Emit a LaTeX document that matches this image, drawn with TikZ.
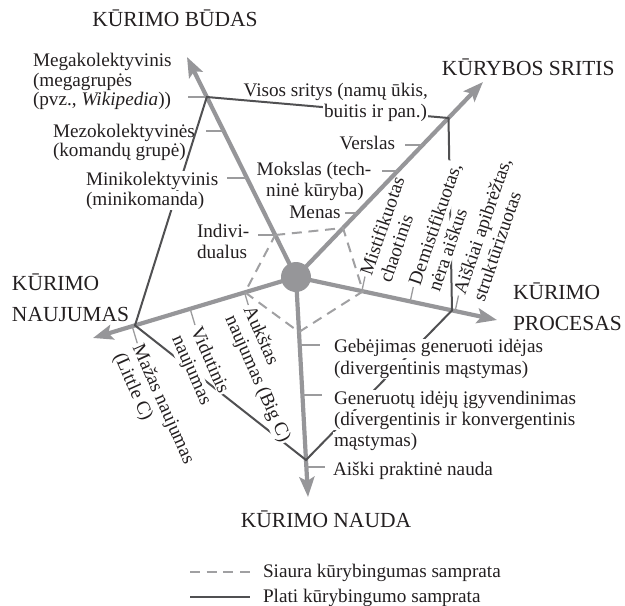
\documentclass[tikz,border=0pt]{standalone}
\usepackage{fontspec}
\setmainfont{Liberation Serif}
\usetikzlibrary{calc,arrows.meta}
\definecolor{axisgray}{RGB}{150,150,153}
\definecolor{dashgray}{RGB}{160,160,162}
\definecolor{tickgray}{RGB}{155,155,157}
\definecolor{darkline}{RGB}{80,80,82}
\definecolor{txt}{RGB}{35,31,32}
\begin{document}
\begin{tikzpicture}[x=1pt,y=1pt,
  axisline/.style={draw=axisgray, line width=4.2pt, -{Stealth[length=20pt,width=15pt,inset=4pt]}},
  tickline/.style={draw=tickgray, line width=1.3pt},
  narrow/.style={draw=dashgray, line width=2pt, dash pattern=on 10pt off 6.7pt},
  broad/.style={draw=darkline, line width=2pt, line join=miter},
  lbl/.style={font=\fontsize{19.2}{21}\selectfont, text=txt, inner sep=0pt, outer sep=0pt},
  ttl/.style={font=\fontsize{21.5}{24}\selectfont, text=txt, inner sep=0pt, outer sep=0pt},
  mask/.style={fill=white, inner xsep=1pt, inner ysep=0.8pt},
]
\useasboundingbox (0,0) rectangle (625,-606);

% centre and arrow tips
\coordinate (C) at (296,-277);
\coordinate (TB) at (187,-57);
\coordinate (TS) at (483,-82);
\coordinate (TP) at (497,-320);
\coordinate (TN) at (308,-497);
\coordinate (TJ) at (93,-338);

% broad (solid) pentagon
\coordinate (SB) at (206.8,-97);
\coordinate (SS) at (448.5,-118);
\coordinate (SP) at (452,-310.4);
\coordinate (SN) at (306,-460);
\coordinate (SJ) at (135,-325.4);

% narrow (dashed) pentagon
\coordinate (DB) at (275.2,-235);
\coordinate (DS) at (343,-228);
\coordinate (DP) at (363,-291.3);
\coordinate (DN) at (299,-332);
\coordinate (DJ) at (245,-292.3);

% axes
\draw[axisline] (C) -- (TB);
\draw[axisline] (C) -- (TS);
\draw[axisline] (C) -- (TP);
\draw[axisline] (C) -- (TN);
\draw[axisline] (C) -- (TJ);

% ticks
\draw[tickline] (188,-97) -- (SB);
\draw[tickline] (206,-131) -- (223.7,-131);
\draw[tickline] (227,-178) -- (247,-178);
\draw[tickline] (258,-235) -- (DB);
\draw[tickline] (405,-145) -- (422.6,-145);
\draw[tickline] (382,-171) -- (397.7,-171);
\draw[tickline] (345,-213) -- (357.4,-213);
\draw[tickline] (299.7,-345) -- (320,-345);
\draw[tickline] (302.4,-395) -- (322,-395);
\draw[tickline] (306.4,-467) -- (325,-467);
\coordinate (Tm) at (365,-276.5);
\coordinate (Td) at (413.3,-287);
\coordinate (Ta) at (458.5,-295.5);
\draw[tickline] ($(C)!(Tm)!(TP)$) -- (Tm);
\draw[tickline] ($(C)!(Td)!(TP)$) -- (Td);
\draw[tickline] ($(C)!(Ta)!(TP)$) -- (Ta);
\coordinate (Tk) at (248.3,-305);
\coordinate (Tv) at (195,-325);
\coordinate (Tz) at (137.3,-343.3);
\draw[tickline] ($(C)!(Tk)!(TJ)$) -- (Tk);
\draw[tickline] ($(C)!(Tv)!(TJ)$) -- (Tv);
\draw[tickline] ($(C)!(Tz)!(TJ)$) -- (Tz);

% pentagons
\draw[narrow] (DB) -- (DS) -- (DP) -- (DN) -- (DJ) -- cycle;
\draw[broad] (SB) -- (SS) -- (SP) -- (SN) -- (SJ) -- cycle;

% centre dot
\fill[axisgray] (C) circle[radius=15];

% titles
\node[ttl, anchor=base] (tb) at (175,-26.7) {KŪRIMO BŪDAS};
\node[ttl, anchor=base] (ts) at (528.3,-75) {KŪRYBOS SRITIS};
\node[ttl, anchor=base west] (tj1) at (12,-290) {KŪRIMO};
\node[ttl, anchor=base west] (tj2) at (12,-321) {NAUJUMAS};
\node[ttl, anchor=base west] (tp1) at (513,-299.3) {KŪRIMO};
\node[ttl, anchor=base west] (tp2) at (513,-330) {PROCESAS};
\node[ttl, anchor=base] (tn) at (326,-527) {KŪRIMO NAUDA};

% KURIMO BUDAS labels
\node[lbl, anchor=base west] (mg1) at (33,-66.5) {Megakolektyvinis};
\node[lbl, anchor=base west] (mg2) at (33,-86) {(megagrupės};
\node[lbl, anchor=base west] (mg3) at (33,-105.5) {(pvz., \textit{Wikipedia}))};
\node[lbl, anchor=base west] (mz1) at (53,-137) {Mezokolektyvinės};
\node[lbl, anchor=base west] (mz2) at (53,-156) {(komandų grupė)};
\node[lbl, mask, anchor=base west] (mn1) at (85,-185) {Minikolektyvinis};
\node[lbl, mask, anchor=base west] (mn2) at (85,-205) {(minikomanda)};
\node[lbl, anchor=base west] (in1) at (197,-237.3) {Indivi-};
\node[lbl, anchor=base west] (in2) at (197,-258) {dualus};

% KURYBOS SRITIS labels
\node[lbl, anchor=base east] (vs1) at (428,-96) {Visos sritys (namų ūkis,};
\node[lbl, mask, anchor=base east] (vs2) at (428,-117) {buitis ir pan.)};
\node[lbl, anchor=base east] (ve) at (395,-149.3) {Verslas};
\node[lbl, anchor=base] (mo1) at (314,-175.5) {Mokslas (tech-};
\node[lbl, anchor=base] (mo2) at (315,-196) {ninė kūryba)};
\node[lbl, anchor=base] (me) at (315,-218.3) {Menas};

% KURIMO PROCESAS labels
\node[lbl, anchor=base west, rotate=71] (m1) at (371.5,-276.6) {Mistifikuotas};
\node[lbl, anchor=base west, rotate=71] (m2) at (390.9,-283.3) {chaotinis};
\node[lbl, mask, anchor=base west, rotate=71] (d1) at (419.8,-287.1) {Demistifikuotas,};
\node[lbl, mask, anchor=base west, rotate=71] (d2) at (439.2,-293.8) {nėra aiškus};
\node[lbl, anchor=base west, rotate=71] (a1) at (465,-295.6) {Aiškiai apibrėžtas,};
\node[lbl, anchor=base west, rotate=71] (a2) at (484.4,-302.3) {struktūrizuotas};

% KURIMO NAUDA labels
\node[lbl, mask, anchor=base west] (g1) at (333,-352.7) {Gebėjimas generuoti idėjas};
\node[lbl, mask, anchor=base west] (g2) at (333,-374) {(divergentinis mąstymas)};
\node[lbl, mask, anchor=base west] (q1) at (333,-404) {Generuotų idėjų įgyvendinimas};
\node[lbl, mask, anchor=base west] (q2) at (333,-425) {(divergentinis ir konvergentinis};
\node[lbl, mask, anchor=base west] (q3) at (333,-446.5) {mąstymas)};
\node[lbl, anchor=base west] (pn) at (333,-475.7) {Aiški praktinė nauda};

% KURIMO NAUJUMAS labels
\node[lbl, anchor=base west, rotate=-66] (k1) at (243.4,-309.4) {Aukštas};
\node[lbl, mask, anchor=base west, rotate=-66] (k2) at (224.7,-317.7) {naujumas (Big C)};
\node[lbl, mask, anchor=base west, rotate=-66] (v1) at (190.1,-329.4) {Vidutinis};
\node[lbl, mask, anchor=base west, rotate=-66] (v2) at (171.4,-337.7) {naujumas};
\node[lbl, anchor=base west, rotate=-66] (z1) at (132.4,-347.7) {Mažas naujumas};
\node[lbl, anchor=base west, rotate=-66] (z2) at (113.7,-356) {(Little C)};

% legend
\coordinate (la1) at (190,-572);
\coordinate (lb1) at (250,-572);
\coordinate (la2) at (190,-597);
\coordinate (lb2) at (250,-597);
\draw[narrow] (la1) -- (lb1);
\draw[broad] (la2) -- (lb2);
\node[lbl, anchor=base west] (lg1) at (263,-577.3) {Siaura kūrybingumas samprata};
\node[lbl, anchor=base west] (lg2) at (263,-602.7) {Plati kūrybingumo samprata};
\end{tikzpicture}
\end{document}
